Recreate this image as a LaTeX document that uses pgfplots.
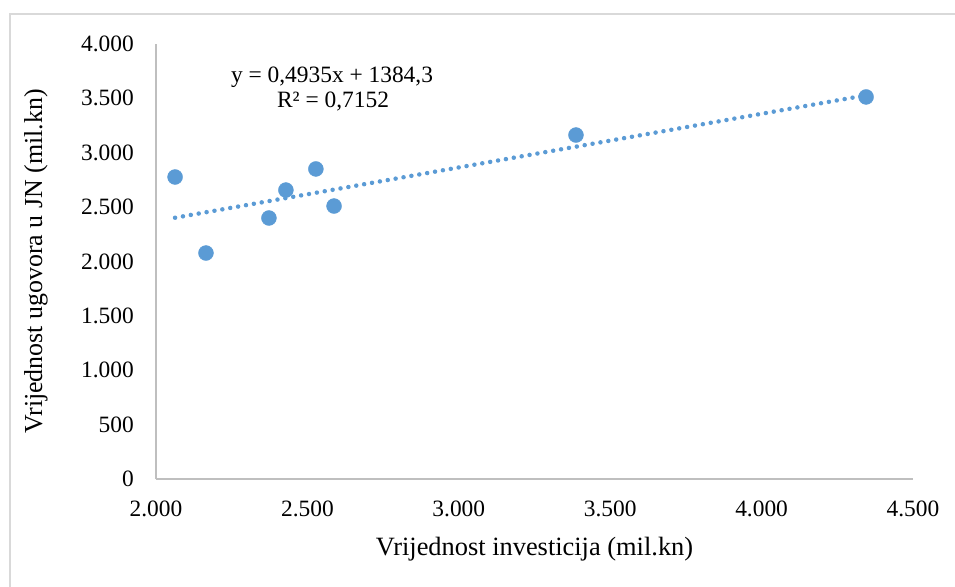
\documentclass[border=0pt]{standalone}
\usepackage{fontspec}
\setmainfont{Liberation Serif}
\usepackage{pgfplots}
\pgfplotsset{compat=1.18}
\definecolor{pt}{HTML}{5B9BD5}
\definecolor{ax}{HTML}{BFBFBF}
\definecolor{bd}{HTML}{D9D9D9}
\begin{document}
\fontsize{23.5}{28}\selectfont
\begin{tikzpicture}
\path[use as bounding box] (0bp,0bp) rectangle (955bp,587bp);
\draw[bd, line width=1.5bp] (10bp,0bp) -- (10bp,573bp) -- (955bp,573bp);
\begin{axis}[
  at={(156bp,108bp)}, anchor=south west,
  scale only axis, width=757bp, height=435bp,
  xmin=2000, xmax=4500, ymin=0, ymax=4000,
  xtick={2000,2500,...,4500}, ytick={0,500,...,4000},
  axis x line*=bottom, axis y line*=left,
  axis line style={-, ax, line width=2bp},
  major tick length=0pt,
  scaled ticks=false,
  /pgf/number format/.cd, 1000 sep={.}, assume math mode=true, /pgfplots/.cd,
  xticklabel style={anchor=center, inner sep=0pt, yshift=-30bp},
  yticklabel style={anchor=east, inner sep=0pt, xshift=-22bp},
  xlabel={Vrijednost investicija (mil.kn)},
  ylabel={Vrijednost ugovora u JN (mil.kn)},
  every axis x label/.style={at={(axis description cs:0.5,-0.162)}, anchor=center, font=\fontsize{26.5}{30}\selectfont},
  every axis y label/.style={at={(axis description cs:-0.1585,0.5)}, anchor=center, rotate=90, font=\fontsize{26}{30}\selectfont},
  clip=false,
]
\addplot[only marks, mark=*, mark size=7.5bp, mark options={draw=pt, fill=pt}] coordinates {
  (2063,2777) (2165,2078) (2373,2400) (2429,2657) (2528,2851) (2588,2510) (3387,3163) (4345,3513)
};
\addplot[pt, line width=4.5bp, line cap=round, dash pattern=on 0bp off 8bp] coordinates {
  (2063,2402.4) (4345,3528.6)
};
\end{axis}
\node at (332bp,510bp) {y = 0,4935x + 1384,3};
\node at (333bp,485bp) {R² = 0,7152};
\end{tikzpicture}
\end{document}
